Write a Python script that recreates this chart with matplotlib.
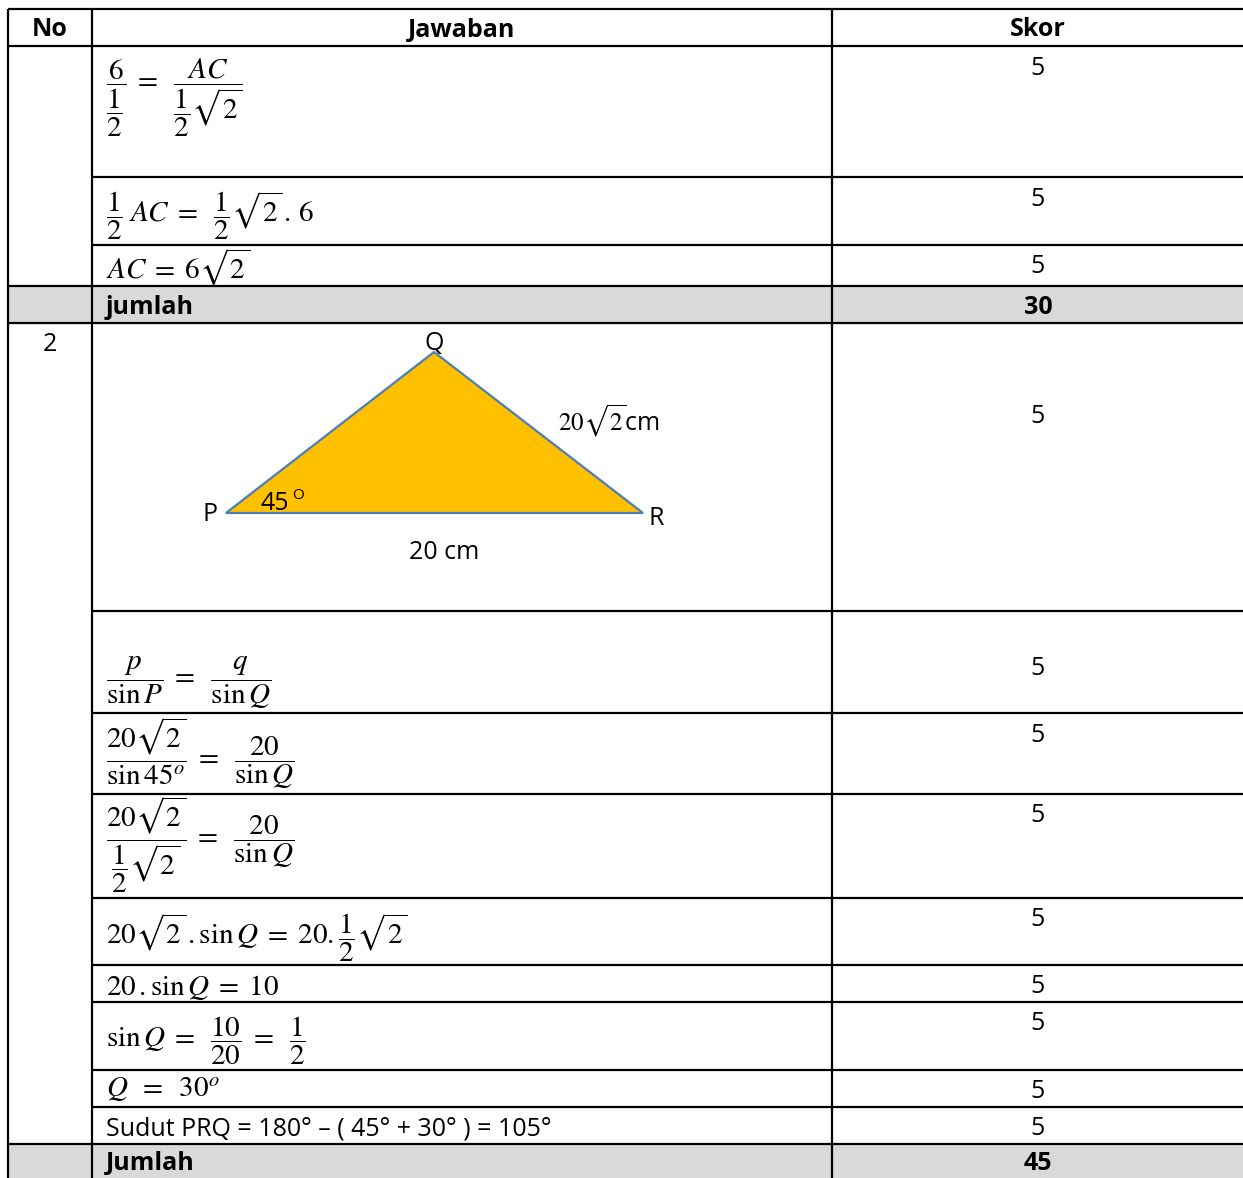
import matplotlib
matplotlib.use("Agg")
import matplotlib.pyplot as plt
from matplotlib.patches import Polygon, Rectangle

plt.rcParams["font.family"] = ["Open Sans", "DejaVu Sans"]
plt.rcParams["mathtext.fontset"] = "stix"

# --- table content ---
headers = ["No", "Jawaban", "Skor"]
sec1_steps = [
    r"$\dfrac{6}{\dfrac{1}{2}}\;=\;\;\dfrac{AC}{\dfrac{1}{2}\sqrt{2}}$",
    r"$\dfrac{1}{2}\;AC\;=\;\;\dfrac{1}{2}\sqrt{2}\,.\,6$",
    r"$AC\;=\;6\sqrt{2}$",
]
sec1_scores = [5, 5, 5]
sec1_total_label, sec1_total = "jumlah", 30

sec2_no = "2"
sec2_steps = [
    None,  # triangle sketch
    r"$\dfrac{p}{\sin P}\;=\;\;\dfrac{q}{\sin Q}$",
    r"$\dfrac{20\sqrt{2}}{\sin 45^{o}}\;=\;\;\dfrac{20}{\sin Q}$",
    r"$\dfrac{20\sqrt{2}}{\dfrac{1}{2}\sqrt{2}}\;=\;\;\dfrac{20}{\sin Q}$",
    r"$20\sqrt{2}\,.\sin Q\;=\;20.\dfrac{1}{2}\sqrt{2}$",
    r"$20\,.\sin Q\;=\;10$",
    r"$\sin Q\;=\;\;\dfrac{10}{20}\;=\;\;\dfrac{1}{2}$",
    r"$Q\;\;=\;\;30^{o}$",
    "Sudut PRQ = 180° – ( 45° + 30° ) = 105°",
]
sec2_scores = [5, 5, 5, 5, 5, 5, 5, 5, 5]
sec2_total_label, sec2_total = "Jumlah", 45

tri_labels = {"P": "P", "Q": "Q", "R": "R", "angle": "45",
              "side_qr": r"$20\sqrt{2}$cm", "side_pr": "20 cm"}

# --- layout (pixels) ---
W, H = 1243, 1178
x_left, x_col1, x_col2 = 8, 92, 832
y_top, y_head = 9, 46
sec1_edges = [46, 177, 245, 286]
sec1_total_row = (286, 323)
sec2_edges = [323, 611, 713, 794, 898, 965, 1002, 1070, 1107, 1144]
sec2_total_row = (1144, 1178)
sec1_base = [90, 222, 278]
sec2_base = [None, 686, 766, 846, 944, 995, 1047, 1097, 1136]
score_y1 = [66, 197, 264]
score_y2 = [414, 666, 733, 813, 917, 984, 1021, 1089, 1126]
tri = [(226, 513), (434, 352), (643, 513)]

fig = plt.figure(figsize=(W / 100, H / 100), dpi=100)
ax = fig.add_axes([0, 0, 1, 1])
ax.set_xlim(0, W)
ax.set_ylim(H, 0)
ax.axis("off")

lw = 1.6
gray = "#D9D9D9"
for y0, y1 in [sec1_total_row, sec2_total_row]:
    ax.add_patch(Rectangle((x_left, y0), W - x_left, y1 - y0, color=gray, zorder=0))

# horizontal rules: full width at section boundaries, otherwise from col1
for y in [y_top, y_head, sec1_total_row[0], sec1_total_row[1], sec2_total_row[0]]:
    ax.plot([x_left, W], [y, y], color="black", lw=lw, solid_capstyle="butt")
for y in sec1_edges[1:-1] + sec2_edges[1:-1]:
    ax.plot([x_col1, W], [y, y], color="black", lw=lw, solid_capstyle="butt")
for x in [x_left, x_col1, x_col2]:
    ax.plot([x, x], [y_top, H], color="black", lw=lw, solid_capstyle="butt")

math_fs = 21
txt_fs = 18
bold_fs = 18
half_cap = 9  # centre -> baseline offset for plain text
tx = 106
sx = 1038


def label(x, yc, s, ha="center", bold=False, fs=txt_fs):
    ax.text(x, yc + half_cap, s, ha=ha, va="baseline", fontsize=fs,
            fontweight="bold" if bold else "normal")


# header
hy = (y_top + y_head) / 2
hx = [(x_left + x_col1) / 2, (x_col1 + x_col2) / 2, sx]
for x, h in zip(hx, headers):
    label(x, hy, h, bold=True, fs=bold_fs)

# section 1
for step, b, sc, sy in zip(sec1_steps, sec1_base, sec1_scores, score_y1):
    ax.text(tx, b, step, ha="left", va="baseline", fontsize=math_fs)
    label(sx, sy, str(sc))
ty = sum(sec1_total_row) / 2
label(tx, ty, sec1_total_label, ha="left", bold=True, fs=bold_fs)
label(sx, ty, str(sec1_total), bold=True, fs=bold_fs)

# section 2
label(50, sec2_edges[0] + 19, sec2_no)
for step, b, sc, sy in zip(sec2_steps, sec2_base, sec2_scores, score_y2):
    if step is not None:
        fs = math_fs if step.startswith("$") else txt_fs
        ax.text(tx, b, step, ha="left", va="baseline", fontsize=fs)
    label(sx, sy, str(sc))
ty = sum(sec2_total_row) / 2
label(tx, ty, sec2_total_label, ha="left", bold=True, fs=bold_fs)
label(sx, ty, str(sec2_total), bold=True, fs=bold_fs)

# triangle sketch
ax.add_patch(Polygon(tri, closed=True, facecolor="#FFC000", edgecolor="#4A7EBB", lw=1.6, zorder=2))
(px, py), (qx, qy), (rx, ry) = tri
label(px - 16, py - 1, tri_labels["P"])
label(qx, qy - 11, tri_labels["Q"])
label(rx + 13, ry + 3, tri_labels["R"])
ax.text(px + 35, py - 3, tri_labels["angle"], ha="left", va="baseline", fontsize=txt_fs, zorder=3)
ax.text(px + 66, py - 14, "O", ha="left", va="baseline", fontsize=11, zorder=3)
ax.text(558, 421, tri_labels["side_qr"], ha="left", va="center", fontsize=txt_fs)
label(444, 550, tri_labels["side_pr"])

fig.savefig("out.png", dpi=100)
